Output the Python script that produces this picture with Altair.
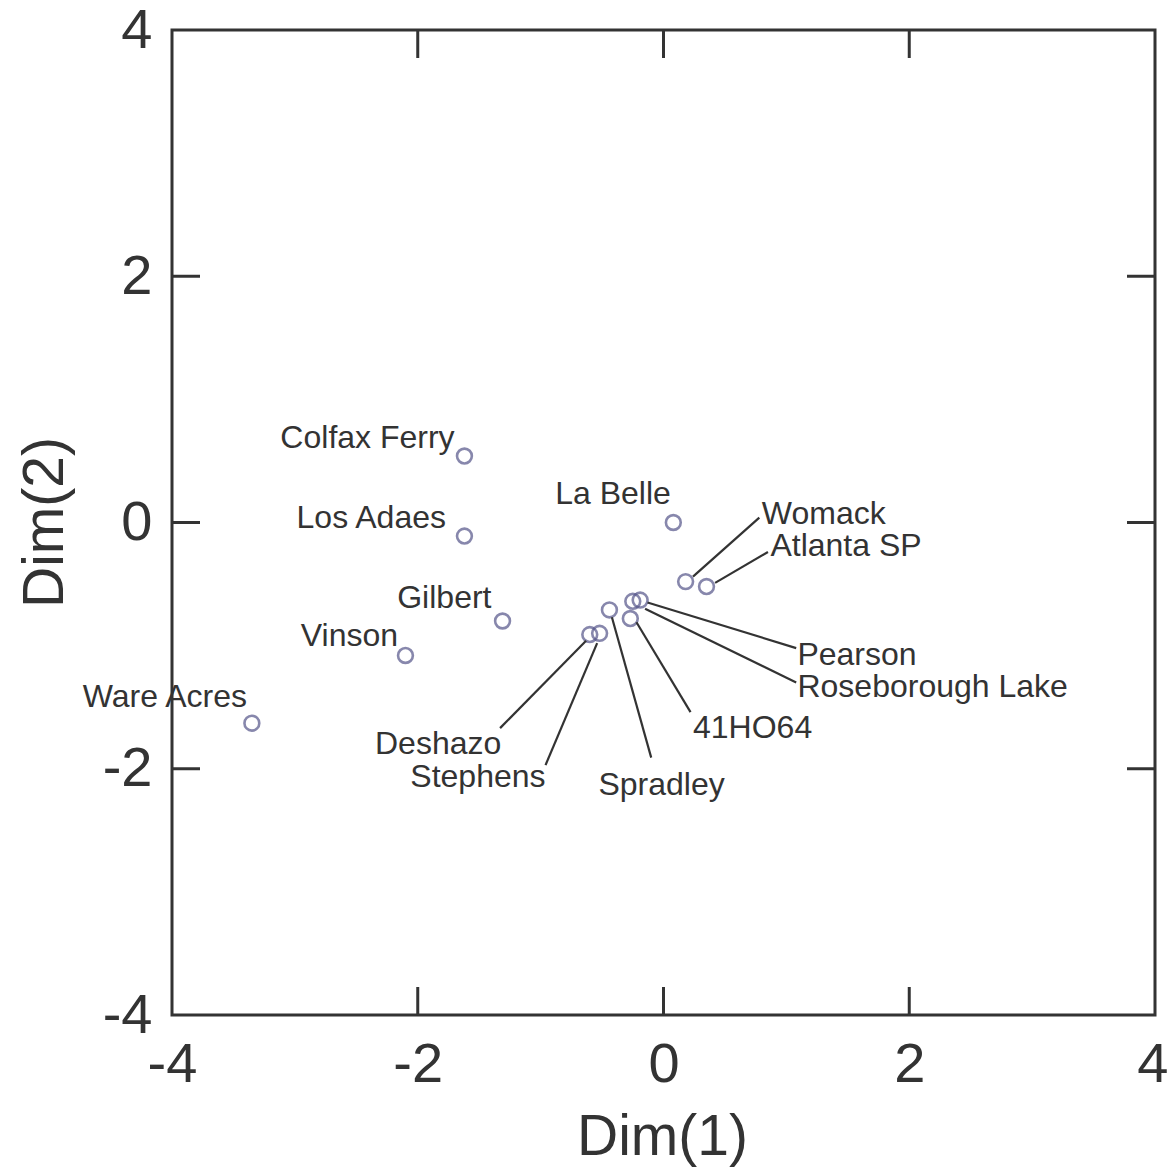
import altair as alt
import pandas as pd

# Site coordinates (Dim 1, Dim 2)
sites = ["Colfax Ferry", "Los Adaes", "Gilbert", "Vinson", "Ware Acres", "La Belle",
         "Womack", "Atlanta SP", "Pearson", "Roseborough Lake", "41HO64", "Spradley",
         "Deshazo", "Stephens"]
dim1 = [-1.62, -1.62, -1.31, -2.10, -3.35, 0.08, 0.18, 0.35, -0.19, -0.25, -0.27, -0.44, -0.60, -0.52]
dim2 = [0.54, -0.11, -0.80, -1.08, -1.63, 0.00, -0.48, -0.52, -0.63, -0.64, -0.78, -0.71, -0.91, -0.90]

# Label anchor positions (data units) and alignment
label_x = [-1.70, -1.77, -1.40, -2.16, -3.39, 0.06, 0.80, 0.87, 1.09, 1.09, 0.24, -0.53, -1.32, -0.96]
label_y = [0.69, 0.04, -0.61, -0.92, -1.42, 0.23, 0.07, -0.19, -1.08, -1.34, -1.67, -2.13, -1.80, -2.07]
label_align = ["right", "right", "right", "right", "right", "right", "left", "left",
               "left", "left", "left", "left", "right", "right"]

# Leader lines (start near point, end at label)
leader_sites = ["Womack", "Atlanta SP", "Pearson", "Roseborough Lake", "41HO64",
                "Spradley", "Stephens", "Deshazo"]
leader_x1 = [0.24, 0.42, -0.13, -0.15, -0.22, -0.42, -0.54, -0.63]
leader_y1 = [-0.44, -0.49, -0.65, -0.70, -0.81, -0.77, -0.98, -0.96]
leader_x2 = [0.78, 0.85, 1.08, 1.08, 0.22, -0.10, -0.96, -1.33]
leader_y2 = [0.04, -0.24, -1.02, -1.30, -1.54, -1.91, -1.97, -1.67]

tick_values = [-2, 0, 2]
axis_values = [-4, -2, 0, 2, 4]

W, H = 983, 985
TICK = 28
INK = "#333333"

pts = pd.DataFrame({"site": sites, "d1": dim1, "d2": dim2,
                    "lx": label_x, "ly": label_y, "align": label_align})
leaders = pd.DataFrame({"site": leader_sites, "x1": leader_x1, "y1": leader_y1,
                        "x2": leader_x2, "y2": leader_y2})
ticks = pd.DataFrame({"t": tick_values})

xs = alt.Scale(domain=[-4, 4], nice=False, zero=False)
ys = alt.Scale(domain=[-4, 4], nice=False, zero=False)

base_axis = dict(grid=False, domain=False, ticks=False, tickSize=0,
                 labelFont="Liberation Sans", labelFontSize=56, labelColor=INK,
                 titleFont="Liberation Sans", titleFontSize=57, titleColor=INK,
                 titleFontWeight="normal", values=axis_values,
                 labelExpr="'' + datum.value", labelFlush=False, labelOverlap=False,
                 labelBound=False)

x_axis = alt.Axis(title="Dim(1)", labelPadding=22, titleX=490, titleY=122,
                  titleBaseline="middle", titleAlign="center",
                  labelAlign={"condition": {"test": "datum.value == 4", "value": "right"},
                              "value": "center"},
                  labelOffset={"condition": {"test": "datum.value == 4", "value": 13},
                               "value": 0},
                  **base_axis)
y_axis = alt.Axis(title="Dim(2)", labelPadding=20, titleX=-127, titleY=492,
                  titleBaseline="middle", titleAlign="center", titleAngle=270,
                  labelBaseline="middle", **base_axis)

points = alt.Chart(pts).mark_point(shape="circle", filled=False, size=220,
                                   stroke="#55558a", strokeWidth=2.6).encode(
    x=alt.X("d1:Q", scale=xs, axis=x_axis),
    y=alt.Y("d2:Q", scale=ys, axis=y_axis),
)

lines = alt.Chart(leaders).mark_rule(color=INK, strokeWidth=2.2).encode(
    x=alt.X("x1:Q", scale=xs), y=alt.Y("y1:Q", scale=ys),
    x2="x2:Q", y2="y2:Q",
)

text_kw = dict(font="Liberation Sans", fontSize=32, color=INK, baseline="middle")
labels_r = alt.Chart(pts).transform_filter(alt.datum.align == "right").mark_text(
    align="right", **text_kw).encode(
    x=alt.X("lx:Q", scale=xs), y=alt.Y("ly:Q", scale=ys), text="site:N")
labels_l = alt.Chart(pts).transform_filter(alt.datum.align == "left").mark_text(
    align="left", **text_kw).encode(
    x=alt.X("lx:Q", scale=xs), y=alt.Y("ly:Q", scale=ys), text="site:N")

tick_kw = dict(color=INK, strokeWidth=3)
t_bottom = alt.Chart(ticks).mark_rule(**tick_kw).encode(
    x=alt.X("t:Q", scale=xs), y=alt.value(H), y2=alt.value(H - TICK))
t_top = alt.Chart(ticks).mark_rule(**tick_kw).encode(
    x=alt.X("t:Q", scale=xs), y=alt.value(0), y2=alt.value(TICK))
t_left = alt.Chart(ticks).mark_rule(**tick_kw).encode(
    y=alt.Y("t:Q", scale=ys), x=alt.value(0), x2=alt.value(TICK))
t_right = alt.Chart(ticks).mark_rule(**tick_kw).encode(
    y=alt.Y("t:Q", scale=ys), x=alt.value(W), x2=alt.value(W - TICK))

chart = alt.layer(points, lines, labels_r, labels_l, t_bottom, t_top, t_left, t_right).properties(
    width=W, height=H,
    autosize=alt.AutoSizeParams(type="none"),
    padding={"left": 164, "top": 22, "right": 13, "bottom": 154},
).configure(
    background="white",
    view=alt.ViewConfig(stroke=INK, strokeWidth=3),
)

chart.save("out.html", embed_options={"renderer": "svg", "actions": False})
